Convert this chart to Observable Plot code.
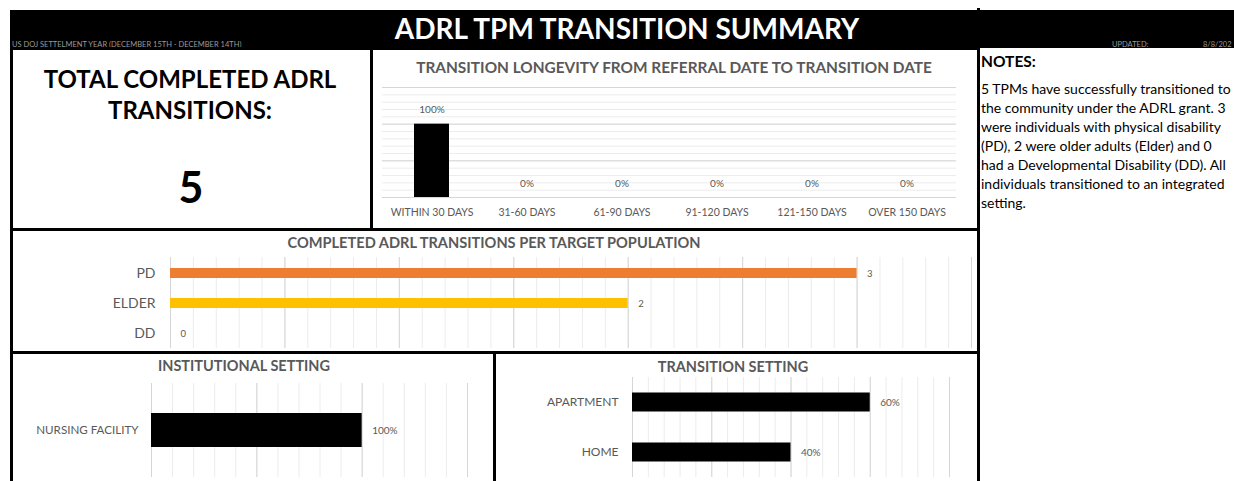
<!DOCTYPE html>
<html><head><meta charset="utf-8">
<script src="https://cdn.jsdelivr.net/npm/d3@7"></script>
<script src="https://cdn.jsdelivr.net/npm/@observablehq/plot@0.6"></script>
<style>
html,body{margin:0;padding:0;background:#fff;overflow:hidden;}
#page{position:relative;width:1234px;height:481px;overflow:hidden;font-family:Lato,"Open Sans",sans-serif;}
.box{position:absolute;box-sizing:border-box;}
.t{position:absolute;white-space:nowrap;line-height:1;}
.c{transform:translateX(-50%);}
.plot{position:absolute;}
</style></head><body><div id="page"></div>
<script>
// ---------- data ----------
const headerTitle = "ADRL TPM TRANSITION SUMMARY";
const headerSubtitle = "US  DOJ SETTELMENT YEAR (DECEMBER 15TH - DECEMBER 14TH)";
const updatedLabel = "UPDATED:";
const updatedDate = "8/8/202";
const totalLabelLines = ["TOTAL COMPLETED ADRL", "TRANSITIONS:"];
const totalTransitions = 5;

const longevityTitle = "TRANSITION LONGEVITY FROM REFERRAL DATE TO TRANSITION DATE";
const longevityCategories = ["WITHIN 30 DAYS", "31-60 DAYS", "61-90 DAYS", "91-120 DAYS", "121-150 DAYS", "OVER 150 DAYS"];
const longevityShares = [1, 0, 0, 0, 0, 0];

const populationTitle = "COMPLETED ADRL TRANSITIONS PER TARGET POPULATION";
const populationCategories = ["PD", "ELDER", "DD"];
const populationCounts = [3, 2, 0];
const populationColors = ["#ed7d31", "#ffc000", "#a5a5a5"];

const institutionTitle = "INSTITUTIONAL SETTING";
const institutionCategories = ["NURSING FACILITY"];
const institutionShares = [1];

const settingTitle = "TRANSITION SETTING";
const settingCategories = ["APARTMENT", "HOME"];
const settingShares = [0.6, 0.4];

const notesTitle = "NOTES:";
const notesLines = [
  "5 TPMs have successfully transitioned to",
  "the community under the ADRL grant. 3",
  "were individuals with physical disability",
  "(PD), 2 were older adults (Elder) and 0",
  "had a Developmental Disability (DD). All",
  "individuals transitioned to an integrated",
  "setting."
];

// ---------- helpers ----------
const page = document.getElementById("page");
function box(x, y, w, h, css) {
  const d = document.createElement("div");
  d.className = "box";
  Object.assign(d.style, {left: x + "px", top: y + "px", width: w + "px", height: h + "px"}, css || {});
  page.appendChild(d);
  return d;
}
function text(str, x, yc, size, css, center) {
  const d = document.createElement("div");
  d.className = "t" + (center ? " c" : "");
  d.textContent = str;
  Object.assign(d.style, {left: x + "px", top: (yc - size / 2) + "px", fontSize: size + "px"}, css || {});
  page.appendChild(d);
  return d;
}
function place(svg, x, y) {
  svg.classList.add("plot");
  svg.style.left = x + "px";
  svg.style.top = y + "px";
  page.appendChild(svg);
}
const pct = d3.format(".0%");
const steps = (max, step) => d3.range(0, Math.round(max / step) + 1).map(i => +(i * step).toFixed(4));
const minorCol = "#ececec", majorCol = "#d6d6d6", gray = "#595959";
const plotStyle = (size) => ({background: "transparent", fontFamily: "Lato, 'Open Sans', sans-serif", fontSize: size + "px", color: gray, overflow: "visible"});

// ---------- header ----------
box(10, 10, 1224, 38, {background: "#000"});
text(headerTitle, 627, 28, 28, {color: "#fff", fontWeight: 700}, true);
text(headerSubtitle, 12, 45, 7.5, {color: "#9a9a9a"});
text(updatedLabel, 1112, 45, 7.5, {color: "#9a9a9a"});
text(updatedDate, 1203, 45, 7.5, {color: "#9a9a9a"});

// ---------- panels ----------
const bd = {border: "3px solid #000"};
box(10, 47, 363, 184, bd);
box(370, 47, 610, 184, bd);
box(10, 228, 970, 126, bd);
box(10, 351, 486, 140, bd);
box(493, 351, 487, 140, bd);
box(977, 8, 3, 473, {background: "#000"});

// ---------- total ----------
text(totalLabelLines[0], 190, 79, 24, {fontWeight: 700, color: "#000"}, true);
text(totalLabelLines[1], 190, 110, 24, {fontWeight: 700, color: "#000"}, true);
text(String(totalTransitions), 191, 186, 43, {fontWeight: 700, color: "#000"}, true);

// ---------- longevity ----------
text(longevityTitle, 674, 68, 15.4, {fontWeight: 700, color: gray}, true);
const longevityData = longevityCategories.map((c, i) => ({category: c, value: longevityShares[i]}));
place(Plot.plot({
  width: 603, height: 150,
  marginLeft: 10, marginRight: 19, marginTop: 11, marginBottom: 29,
  x: {domain: longevityCategories, padding: 0, label: null, tickSize: 0, tickPadding: 11},
  y: {domain: [0, 1.5], axis: null},
  style: plotStyle(10.5),
  marks: [
    Plot.ruleY(steps(1.5, 0.1), {stroke: minorCol}),
    Plot.ruleY(steps(1.5, 0.5), {stroke: majorCol}),
    Plot.barY(longevityData, {x: "category", y: "value", fill: "#000", insetLeft: 30, insetRight: 30}),
    Plot.text(longevityData, {x: "category", y: "value", text: d => pct(d.value), dy: -14, fill: gray, fontSize: 10})
  ]
}), 372, 76);

// ---------- population ----------
text(populationTitle, 494, 243, 14.6, {fontWeight: 700, color: gray}, true);
const populationData = populationCategories.map((c, i) => ({category: c, value: populationCounts[i], color: populationColors[i]}));
place(Plot.plot({
  width: 963, height: 98,
  marginLeft: 158, marginRight: 4, marginTop: 5, marginBottom: 2,
  x: {domain: [0, 3.5], axis: null},
  y: {domain: populationCategories, padding: 0, label: null, tickSize: 0, tickPadding: 15},
  color: {type: "identity"},
  style: plotStyle(14),
  marks: [
    Plot.ruleX(steps(3.5, 0.1), {stroke: minorCol}),
    Plot.ruleX(steps(3.5, 0.5), {stroke: majorCol}),
    Plot.barX(populationData, {x: "value", y: "category", fill: "color", insetTop: 10, insetBottom: 10}),
    Plot.text(populationData, {x: "value", y: "category", text: d => String(d.value), textAnchor: "start", dx: 10, fontSize: 9.5, fill: gray})
  ]
}), 12, 252);

// ---------- institutional ----------
text(institutionTitle, 244, 366, 14.5, {fontWeight: 700, color: gray}, true);
const institutionData = institutionCategories.map((c, i) => ({category: c, value: institutionShares[i]}));
place(Plot.plot({
  width: 480, height: 103,
  marginLeft: 139, marginRight: 25, marginTop: 5, marginBottom: 4,
  x: {domain: [0, 1.5], axis: null},
  y: {domain: institutionCategories, padding: 0, label: null, tickSize: 0, tickPadding: 13},
  style: plotStyle(11.6),
  marks: [
    Plot.ruleX(steps(1.5, 0.1), {stroke: minorCol}),
    Plot.ruleX(steps(1.5, 0.5), {stroke: majorCol}),
    Plot.barX(institutionData, {x: "value", y: "category", fill: "#000", insetTop: 30, insetBottom: 30}),
    Plot.text(institutionData, {x: "value", y: "category", text: d => pct(d.value), textAnchor: "start", dx: 10, fontSize: 10, fill: gray})
  ]
}), 12, 378);

// ---------- transition setting ----------
text(settingTitle, 733, 367, 14.5, {fontWeight: 700, color: gray}, true);
const settingData = settingCategories.map((c, i) => ({category: c, value: settingShares[i]}));
place(Plot.plot({
  width: 479, height: 107,
  marginLeft: 136, marginRight: 26, marginTop: 3, marginBottom: 4,
  x: {domain: [0, 0.8], axis: null},
  y: {domain: settingCategories, padding: 0, label: null, tickSize: 0, tickPadding: 14},
  style: plotStyle(12),
  marks: [
    Plot.ruleX(steps(0.8, 0.04), {stroke: minorCol}),
    Plot.ruleX(steps(0.8, 0.2), {stroke: majorCol}),
    Plot.barX(settingData, {x: "value", y: "category", fill: "#000", insetTop: 15.5, insetBottom: 15.5}),
    Plot.text(settingData, {x: "value", y: "category", text: d => pct(d.value), textAnchor: "start", dx: 10, fontSize: 10, fill: gray})
  ]
}), 496, 374);

// ---------- notes ----------
text(notesTitle, 981, 62, 15.5, {fontWeight: 700, color: "#000"});
notesLines.forEach((l, i) => text(l, 981, 89 + i * 19, 14, {color: "#000"}));
</script></body></html>
